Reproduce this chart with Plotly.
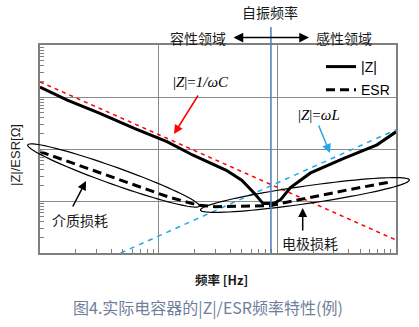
import numpy as np
import plotly.graph_objects as go

# ---------------- data (log10 units: decades) ----------------
z_logf = [0, 0.23, 0.5, 0.8, 1.07, 1.29, 1.57, 1.70, 1.81, 1.88, 1.97, 2.03, 2.11, 2.28, 2.56, 2.84, 3.0]
z_logv = [3.19, 2.94, 2.69, 2.39, 2.14, 1.88, 1.59, 1.40, 1.14, 0.95, 0.95, 1.03, 1.26, 1.54, 1.82, 2.08, 2.33]
esr_logf = [0, 0.5, 1.08, 1.33, 1.48, 1.94, 2.02, 2.585, 2.96]
esr_logv = [1.95, 1.55, 1.08, 0.92, 0.89, 0.91, 0.95, 1.21, 1.37]
cap_logf = [0, 3]
cap_logv = [3.29, 0.25]
ind_logf = [0.68, 3.0]
ind_logv = [0.0, 2.37]
f_res_log = 1.946
x_range = [0, 3]
y_range = [0, 4]

W, H = 419, 327
ML, MR, MT, MB = 40, 23, 45, 74
PW, PH = W - ML - MR, H - MT - MB


def px(x, y):
    """pixel position -> paper coords"""
    return (x - ML) / PW, (H - MB - y) / PH


def p10(a):
    return [10 ** v for v in a]


fig = go.Figure()
fig.add_trace(go.Scatter(x=p10(cap_logf), y=p10(cap_logv), mode="lines",
                         line=dict(color="#ff0000", width=1.5, dash="4px,4px"),
                         showlegend=False, hoverinfo="skip"))
fig.add_trace(go.Scatter(x=p10(ind_logf), y=p10(ind_logv), mode="lines",
                         line=dict(color="#1ea8ea", width=1.5, dash="5px,5px"),
                         showlegend=False, hoverinfo="skip"))
fig.add_trace(go.Scatter(x=p10(z_logf), y=p10(z_logv), mode="lines", name="|Z|",
                         legendgroup="a",
                         line=dict(color="#000000", width=3)))
fig.add_trace(go.Scatter(x=p10(esr_logf), y=p10(esr_logv), mode="lines", name="ESR",
                         legendgroup="b",
                         line=dict(color="#000000", width=3, dash="9px,5px")))

axcommon = dict(type="log", showticklabels=False, showgrid=True, gridcolor="#8a8a8a",
                gridwidth=1, dtick=1, showline=True, linecolor="#808080", linewidth=1.5,
                mirror=True, ticks="inside", ticklen=4, tickcolor="#808080",
                minor=dict(ticks="inside", ticklen=4, tickcolor="#808080", dtick="D1",
                           showgrid=False),
                zeroline=False, fixedrange=True)


def ellipse_path(cx, cy, a, b, ang, n=90):
    t = np.linspace(0, 2 * np.pi, n)
    r = np.deg2rad(ang)
    xs = cx + a * np.cos(t) * np.cos(r) - b * np.sin(t) * np.sin(r)
    ys = cy + a * np.cos(t) * np.sin(r) + b * np.sin(t) * np.cos(r)
    pts = [px(x, y) for x, y in zip(xs, ys)]
    return "M " + " L ".join(f"{u:.5f},{v:.5f}" for u, v in pts) + " Z"


shapes = [
    dict(type="path", xref="paper", yref="paper",
         path=ellipse_path(113.5, 175.5, 91, 8.6, np.degrees(np.arctan2(61, 171))),
         line=dict(color="#000000", width=1.2)),
    dict(type="path", xref="paper", yref="paper",
         path=ellipse_path(304.9, 195, 105.5, 8.8, np.degrees(np.arctan2(-30, 208.3))),
         line=dict(color="#000000", width=1.2)),
    dict(type="line", xref="paper", yref="paper",
         x0=(f_res_log - x_range[0]) / (x_range[1] - x_range[0]),
         x1=(f_res_log - x_range[0]) / (x_range[1] - x_range[0]),
         y0=0, y1=px(0, 27)[1], line=dict(color="#4a7dc0", width=1.5)),
]

cjk = "Noto Sans CJK SC"
ann = []


def text(t, x, y, size=14, color="#1a1a1a", family=cjk, **kw):
    u, v = px(x, y)
    ann.append(dict(text=t, x=u, y=v, xref="paper", yref="paper", showarrow=False,
                    xanchor="center", yanchor="middle",
                    font=dict(size=size, color=color, family=family), **kw))


def arrow(tip, tail, color="#000000", side="end", width=1.5, size=1.2):
    u, v = px(*tip)
    ann.append(dict(text="", x=u, y=v, xref="paper", yref="paper", showarrow=True,
                    ax=tail[0] - tip[0], ay=tail[1] - tip[1], axref="pixel", ayref="pixel",
                    arrowhead=2, arrowsize=size, arrowwidth=width, arrowcolor=color,
                    arrowside=side, standoff=0, startstandoff=0))


text("自振频率", 269.5, 12, size=14)
text("容性领域", 198, 37.5, size=14)
text("感性领域", 343.5, 37.5, size=14)
arrow((309, 37.5), (232, 37.5), side="end+start", width=1.5, size=1.3)
text("|<i>Z</i>|=<i>1/ωC</i>", 201, 81.7, size=15, family="Liberation Serif", color="#000")
arrow((174, 134), (199, 94), color="#ff0000")
text("|<i>Z</i>|=<i>ωL</i>", 319, 115, size=15, family="Liberation Serif", color="#000")
arrow((330, 153), (318, 124), color="#1ea8ea")
text("介质损耗", 80, 220, size=14)
arrow((86, 181), (72, 208))
text("电极损耗", 310, 242.5, size=14)
arrow((302.7, 208), (302.7, 232))
text("|Z|/ESR[Ω]", 15, 155, size=13, family="Liberation Sans", textangle=-90)
text("<b>频率 [Hz]</b>", 221, 279, size=12.5)
text("图4.实际电容器的|Z|/ESR频率特性(例)", 207.5, 306.5, size=16, color="#6f7f99")

lx, ly = px(321, 51)
fig.update_layout(
    width=W, height=H, margin=dict(l=ML, r=MR, t=MT, b=MB),
    paper_bgcolor="white", plot_bgcolor="white",
    xaxis=dict(range=x_range, **axcommon),
    yaxis=dict(range=y_range, **axcommon),
    shapes=shapes, annotations=ann,
    showlegend=True,
    legend=dict(x=lx, y=ly, xanchor="left", yanchor="top", bgcolor="rgba(0,0,0,0)",
                font=dict(size=14, family="Liberation Sans", color="#000"),
                traceorder="grouped", tracegroupgap=2, itemwidth=30),
)
fig.write_html("out.html")
